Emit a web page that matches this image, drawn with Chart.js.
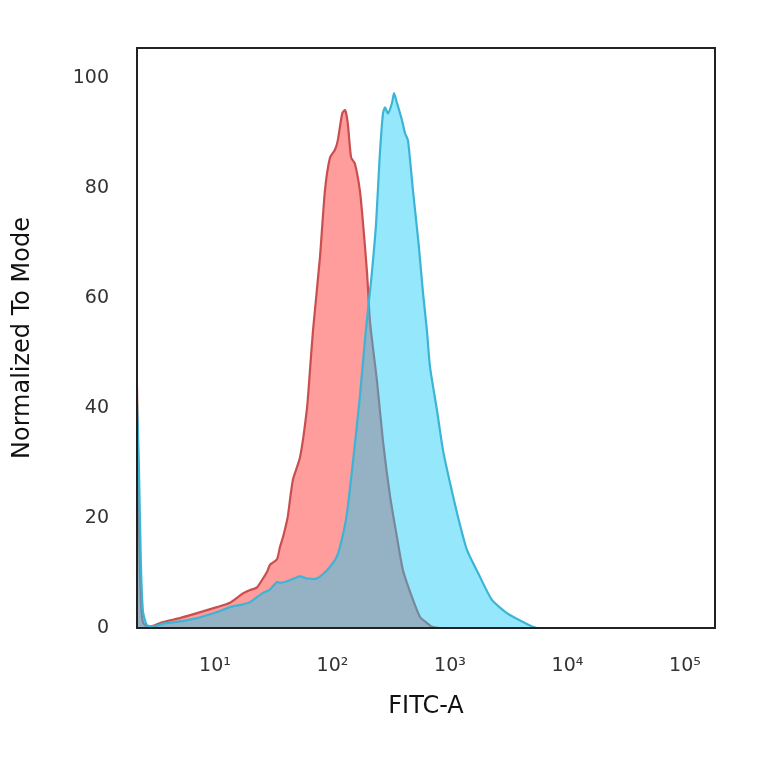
<!DOCTYPE html>
<html lang="en">
<head>
  <meta charset="UTF-8" />
  <title>FITC-A histogram</title>
  <script src="https://cdn.jsdelivr.net/npm/chart.js"></script>
  <style>
    body {
      margin: 0;
      background: white;
    }
    .chart-box {
      width: 764px;
      height: 764px;
    }
  </style>
</head>
<body>

  <div class="chart-box">
    <canvas id="histChart"></canvas>
  </div>

  <script>
    // isotype control (red) - FITC intensity and % of mode
    const redX = [2.17, 2.25, 2.34, 2.44, 2.64, 3.08, 3.61, 5.03, 7.03, 10.4, 13.4, 17.3, 19.9, 22.8, 25.6, 27.7,
                  29.4, 33.7, 35.7, 37.9, 41.0, 41.8, 46.1, 52.9, 60.7, 64.4, 68.2, 78.3, 86.3, 95.3, 105, 111,
                  121, 128, 135, 144, 155, 171, 182, 197, 209, 239, 269, 309, 354, 398, 475, 556, 637, 703, 822, 180000];
    const redY = [44, 20, 5, 1, 0.3, 0.5, 1.1, 1.8, 2.7, 3.8, 4.6, 6.3, 6.9, 7.4, 9, 10.2,
                  11.5, 12.5, 14.7, 16.5, 19.5, 20.5, 27, 31, 40, 47, 54, 67.5, 79.6, 85.6, 87, 88.7,
                  93.6, 94.2, 91.8, 85.6, 84.5, 79.6, 73.6, 64.5, 55.5, 45, 34, 24, 16.5, 10.5, 5.6, 2, 0.9, 0.2, 0, 0];

    // stained sample (blue)
    const blueX = [2.17, 2.25, 2.34, 2.44, 2.64, 3.08, 3.61, 5.03, 7.03, 10.4, 13.4, 17.3, 19.9, 25.6, 29.4, 33.7,
                   35.7, 41.0, 52.9, 60.7, 73.8, 89.8, 109, 123, 133, 149, 171, 192, 215, 235, 252, 269,
                   280, 297, 321, 334, 354, 390, 414, 439, 484, 540, 589, 637, 676, 775, 871, 1000, 1170, 1395,
                   1800, 2275, 3053, 4180, 5500, 180000];
    const blueY = [41, 30, 12, 3, 0.5, 0.3, 0.8, 1.2, 1.8, 2.9, 3.8, 4.3, 4.7, 6.4, 7.0, 8.4,
                   8.2, 8.5, 9.4, 9.0, 9.0, 10.5, 13, 17, 21, 30, 42, 54, 64, 73.6, 85.6, 93.6,
                   94.7, 93.6, 95.5, 97.3, 95.5, 92.4, 90, 88.7, 79.6, 70, 61, 54, 47.5, 39.6, 32.4, 26.4, 20.2, 14.2,
                   9.3, 5.1, 2.7, 1.1, 0, 0];

    const yTicks = [0, 20, 40, 60, 80, 100];
    const xTicks = [10, 100, 1000, 10000, 100000];
    const xTickText = ["10\u00b9", "10\u00b2", "10\u00b3", "10\u2074", "10\u2075"];

    const toPoints = (xs, ys) => xs.map((x, i) => ({ x: x, y: ys[i] }));

    // black box round the plot area
    const frame = {
      id: "frame",
      afterDraw(chart) {
        const a = chart.chartArea;
        const ctx = chart.ctx;
        ctx.save();
        ctx.strokeStyle = "#222";
        ctx.lineWidth = 2;
        ctx.strokeRect(a.left, a.top, a.right - a.left, a.bottom - a.top);
        ctx.restore();
      }
    };

    new Chart(document.getElementById("histChart"), {
      type: "line",
      data: {
        datasets: [
          {
            label: "Antibody",
            data: toPoints(blueX, blueY),
            borderColor: "#3bb4d6",
            backgroundColor: "rgba(25, 205, 246, 0.46)",
            borderWidth: 2.2,
            fill: "origin",
            pointRadius: 0,
            tension: 0.2,
            order: 0
          },
          {
            label: "Isotype",
            data: toPoints(redX, redY),
            borderColor: "#c94f4f",
            backgroundColor: "rgb(255, 156, 156)",
            borderWidth: 2.2,
            fill: "origin",
            pointRadius: 0,
            tension: 0.2,
            order: 1
          }
        ]
      },
      options: {
        responsive: true,
        maintainAspectRatio: false,
        animation: false,
        layout: { padding: { top: 48, right: 49, left: 0, bottom: 0 } },
        plugins: {
          legend: { display: false },
          tooltip: { enabled: false }
        },
        scales: {
          x: {
            type: "logarithmic",
            min: 2.17,
            max: 180000,
            afterFit: s => { s.height = 136; },
            afterBuildTicks: s => { s.ticks = xTicks.map(v => ({ value: v })); },
            grid: { display: false, drawTicks: false },
            border: { display: false },
            ticks: {
              autoSkip: false,
              maxRotation: 0,
              padding: 27,
              color: "#333",
              font: { family: "DejaVu Sans", size: 19 },
              callback: v => {
                const i = xTicks.indexOf(v);
                return i >= 0 ? xTickText[i] : null;
              }
            },
            title: {
              display: true,
              text: "FITC-A",
              color: "#111",
              font: { family: "DejaVu Sans", size: 24 },
              padding: { top: 0, bottom: 43 }
            }
          },
          y: {
            min: 0,
            max: 105.5,
            afterFit: s => { s.width = 137; },
            afterBuildTicks: s => { s.ticks = yTicks.map(v => ({ value: v })); },
            grid: { display: false, drawTicks: false },
            border: { display: false },
            ticks: {
              padding: 28,
              color: "#333",
              font: { family: "DejaVu Sans", size: 19 }
            },
            title: {
              display: true,
              text: "Normalized To Mode",
              color: "#111",
              font: { family: "DejaVu Sans", size: 24 },
              padding: { top: 8, bottom: 0 }
            }
          }
        }
      },
      plugins: [frame]
    });
  </script>

</body>
</html>
